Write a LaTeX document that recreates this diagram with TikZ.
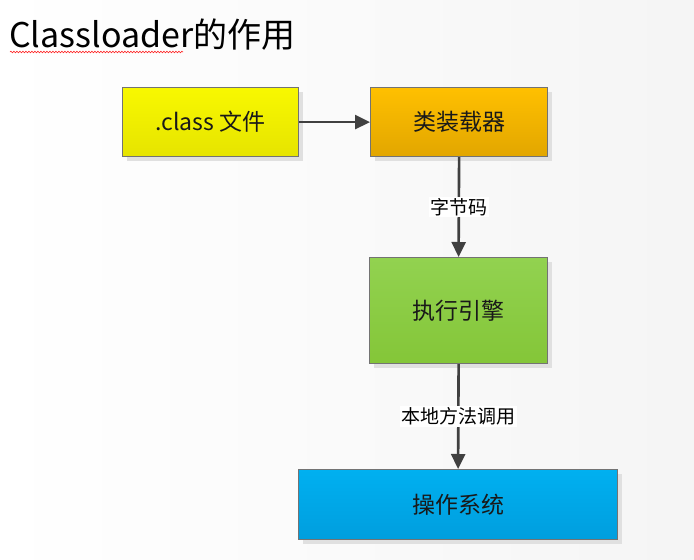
\documentclass[tikz,border=0pt]{standalone}
\usepackage{fontspec}
\setmainfont{Noto Sans CJK SC}
\usetikzlibrary{arrows.meta,decorations.pathmorphing,shadows}
\begin{document}
\begin{tikzpicture}[x=1pt,y=-1pt,
  box/.style={draw=black!55,line width=1.2pt,font=\fontsize{23}{27}\selectfont,
    text=black!90,inner sep=0pt,
    drop shadow={shadow xshift=4pt,shadow yshift=-4pt,fill=black!12,opacity=1}},
  conn/.style={draw=black!75,line width=2.6pt,-{Triangle[length=15pt,width=14pt]}},
  lbl/.style={fill=white,font=\fontsize{19}{23}\selectfont,text=black,inner sep=1.5pt}]
\shade[left color=white,right color=black!4] (0,0) rectangle (694,560);
\useasboundingbox (0,0) rectangle (694,560);
\node[anchor=base west,font=\fontsize{34}{38}\selectfont,inner sep=0pt] (title) at (9,47) {Classloader的作用};
\draw[red!85,line width=0.6pt,decorate,decoration={snake,amplitude=0.8pt,segment length=3pt}]
  (10,52) -- (183,52);
\node[box,minimum width=176pt,minimum height=69pt,top color={rgb,255:red,248;green,248;blue,0},bottom color={rgb,255:red,230;green,228;blue,0},anchor=north west] (cls) at (122,87) {.class 文件};
\node[box,minimum width=177pt,minimum height=69pt,top color={rgb,255:red,255;green,192;blue,0},bottom color={rgb,255:red,226;green,166;blue,0},anchor=north west] (loader) at (370,87) {类装载器};
\node[box,minimum width=178pt,minimum height=106pt,top color={rgb,255:red,146;green,210;blue,80},bottom color={rgb,255:red,132;green,198;blue,56},anchor=north west] (engine) at (369,257) {执行引擎};
\node[box,minimum width=319pt,minimum height=70pt,top color={rgb,255:red,0;green,176;blue,240},bottom color={rgb,255:red,0;green,158;blue,222},anchor=north west] (os) at (298,469) {操作系统};
\draw[conn] (cls) -- (loader);
\draw[conn] (loader.south) -- node[lbl] {字节码} (engine.north);
\draw[conn] (engine.south) -- node[lbl] {本地方法调用} (os.north);
\end{tikzpicture}
\end{document}
